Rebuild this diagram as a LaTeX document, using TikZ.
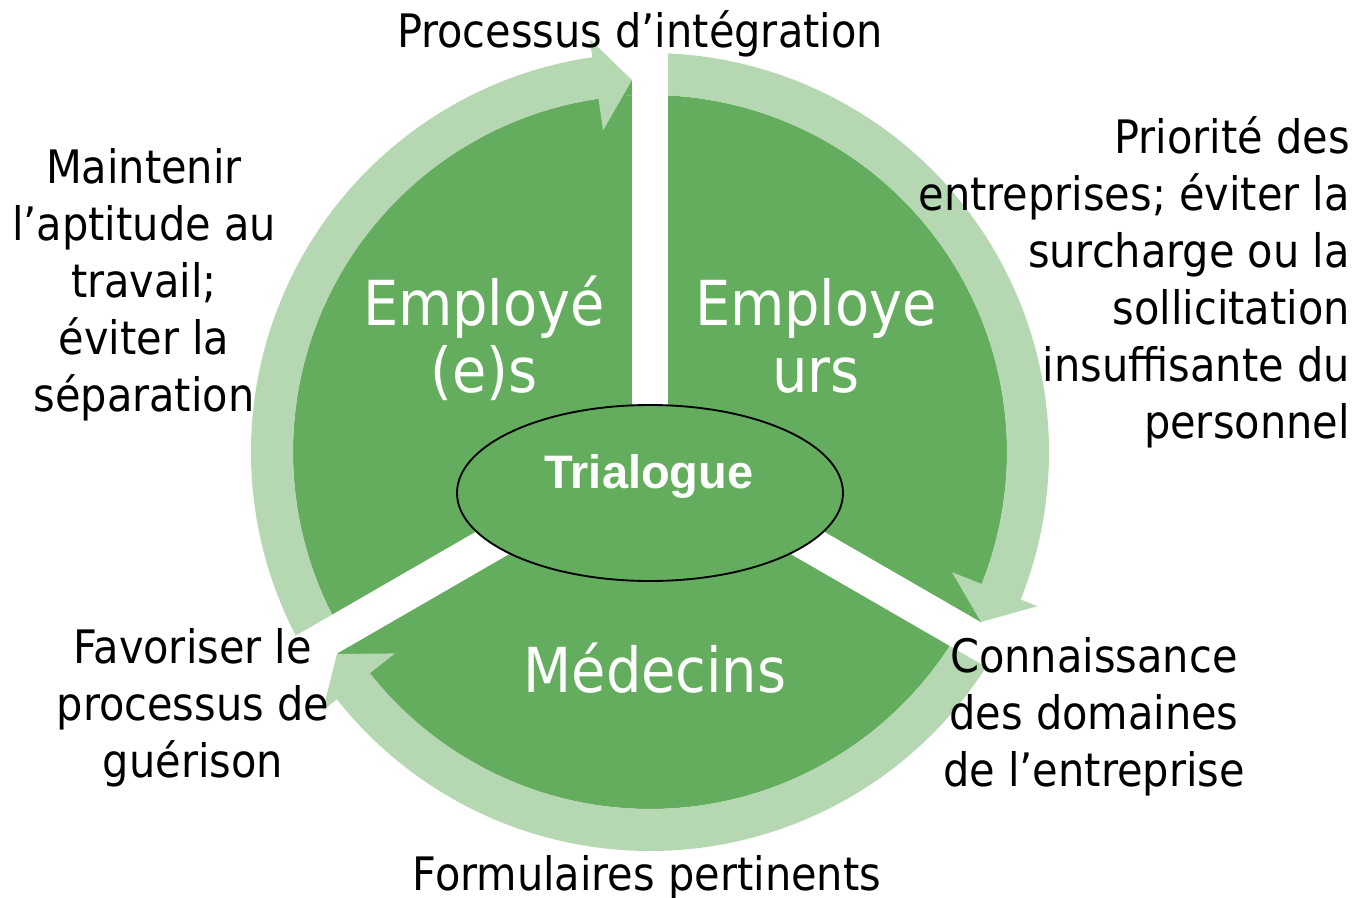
\documentclass[tikz,border=0pt]{standalone}
\usepackage{fontspec}
\setmainfont{DejaVu Sans Condensed}
\newfontfamily\hubfont{Liberation Sans}
\usetikzlibrary{shapes.geometric, positioning}
\definecolor{segdark}{HTML}{65AD5E}
\definecolor{ringlight}{HTML}{B5D7B1}

\begin{document}
\begin{tikzpicture}[
  x=0.75pt, y=0.75pt,
  ring/.style={fill=ringlight},
  segment/.style={fill=segdark},
  gapline/.style={draw=white, line width=27pt},
  seglabel/.style={font=\fontsize{46.5}{50.25}\selectfont, text=white, align=center, inner sep=0pt},
  note/.style={font=\fontsize{34.6}{42.75}\selectfont, align=center, inner sep=0pt},
  hub/.style={ellipse, draw=black, line width=1.4pt, fill=segdark, minimum width=289.5pt, minimum height=132pt, inner sep=0pt}
]
  \useasboundingbox (-650,-445) rectangle (711,452);

  % Disk and tip patches
  \fill[segment] (0,0) circle[radius=357];
  \fill[segment] (98.3:357) arc[start angle=98.3, end angle=90, radius=357] -- (90:372) arc[start angle=90, end angle=98.3, radius=372] -- cycle;
  \fill[segment] (-21.7:357) arc[start angle=-21.7, end angle=-30, radius=357] -- (-30:372) arc[start angle=-30, end angle=-21.7, radius=372] -- cycle;
  \fill[segment] (218.3:357) arc[start angle=218.3, end angle=210, radius=357] -- (210:372) arc[start angle=210, end angle=218.3, radius=372] -- cycle;

  % Arrow tips
  \coordinate (tipA) at (-18,372);
  \coordinate (tipB) at (331,-170);
  \coordinate (tipC) at (-313,-202);

  % Ring arrows
  \fill[ring] (210:399) arc[start angle=210, end angle=98.3, radius=399] -- (98.3:417) -- (tipA) -- (98.3:325) -- (98.3:357) arc[start angle=98.3, end angle=210, radius=357] -- cycle;
  \fill[ring] (90:399) arc[start angle=90, end angle=-21.7, radius=399] -- (-21.7:417) -- (tipB) -- (-21.7:325) -- (-21.7:357) arc[start angle=-21.7, end angle=90, radius=357] -- cycle;
  \fill[ring] (330:399) arc[start angle=330, end angle=218.3, radius=399] -- (218.3:417) -- (tipC) -- (218.3:325) -- (218.3:357) arc[start angle=218.3, end angle=330, radius=357] -- cycle;

  % Gaps
  \coordinate (mid) at (0,0);
  \draw[gapline] (mid) -- (90:470);
  \draw[gapline] (mid) -- (210:470);
  \draw[gapline] (mid) -- (330:470);

  % Hub
  \node[hub] (hub) at (0,-41) {};
  \node[anchor=base, inner sep=0pt, text=white, font=\hubfont\bfseries\fontsize{35.25}{40}\selectfont] (hubtext) at (-1,-36) {Trialogue};

  % Segments
  \node[seglabel, anchor=base] (employes) at (-166,60) {Employé\\(e)s};
  \node[seglabel, anchor=base] (employeurs) at (166,60) {Employe\\urs};
  \node[seglabel, anchor=base] (medecins) at (5,-240) {Médecins};

  % Notes
  \node[note, anchor=base] (integration) at (-10,404) {Processus d’intégration};
  \node[note, align=right, anchor=base east] (priorite) at (700,14) {Priorité des\\entreprises; éviter la\\surcharge ou la\\sollicitation\\insuffisante du\\personnel};
  \node[note, anchor=base] (maintenir) at (-506,41) {Maintenir\\l’aptitude au\\travail;\\éviter la\\séparation};
  \node[note, anchor=base] (favoriser) at (-457,-325) {Favoriser le\\processus de\\guérison};
  \node[note, anchor=base] (connaissance) at (444,-334) {Connaissance\\des domaines\\de l’entreprise};
  \node[note, anchor=base] (formulaires) at (-3,-438) {Formulaires pertinents};
\end{tikzpicture}
\end{document}
